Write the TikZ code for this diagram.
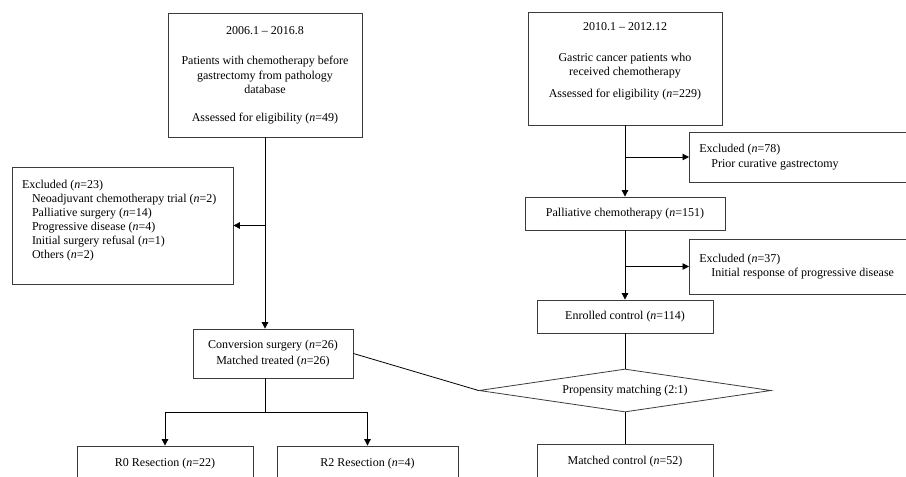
\documentclass[tikz,border=0pt]{standalone}
\usepackage{fontspec}
\setmainfont{Liberation Serif}
\usepackage{tikz}
\usetikzlibrary{arrows.meta,positioning,shapes.geometric}
\definecolor{boxgrey}{RGB}{60,60,60}
\tikzset{
  base/.style={font=\fontsize{12}{14.5}\selectfont, align=flush center, inner sep=2pt, text=black},
  box/.style={base, rectangle, draw=boxgrey, fill=white, line width=0.8pt},
  exbox/.style={box, align=flush left, inner xsep=10pt},
  dec/.style={base, diamond, aspect=6.8, draw=boxgrey, fill=white, line width=0.8pt, inner sep=0pt},
  conn/.style={line width=0.8pt, draw=black},
  arr/.style={conn, -{Triangle[length=6.5pt,width=6.5pt]}},
}
\newcommand{\nn}[1]{(\textit{n}=#1)}

\begin{document}
\begin{tikzpicture}[x=1pt,y=-1pt]
  \useasboundingbox (0,0) rectangle (906,477);
  \clip (0,0) rectangle (906,477);
  % treated arm
  \node[box,minimum width=194pt,minimum height=124pt,text width=184pt] (srcA) at (265,75)
    {2006.1 -- 2016.8\\[16pt] Patients with chemotherapy before\\ gastrectomy from pathology\\ database\\[13pt] Assessed for eligibility \nn{49}};
  \node[exbox,text width=201pt,inner ysep=12pt,text height=9pt,text depth=84pt,font=\fontsize{12}{14}\selectfont] (exL) at (122.5,225.5)
    {Excluded \nn{23}\\
     \hspace*{10pt}Neoadjuvant chemotherapy trial \nn{2}\\
     \hspace*{10pt}Palliative surgery \nn{14}\\
     \hspace*{10pt}Progressive disease \nn{4}\\
     \hspace*{10pt}Initial surgery refusal \nn{1}\\
     \hspace*{10pt}Others \nn{2}};
  \node[box,minimum width=160pt,minimum height=49pt] (conv) at (273,353.5)
    {Conversion surgery \nn{26}\\[1.5pt] Matched treated \nn{26}};
  \node[box,minimum width=176pt,minimum height=36pt] (resA) at (165,464) {R0 Resection \nn{22}};
  \node[box,minimum width=181pt,minimum height=36pt] (resB) at (367.5,464) {R2 Resection \nn{4}};
  % control arm
  \node[box,minimum width=194pt,text width=184pt,inner ysep=10pt,text height=8.7pt,text depth=84.3pt] (srcB) at (625,68.5)
    {2010.1 -- 2012.12\\[16pt] Gastric cancer patients who\\ received chemotherapy\\[7pt] Assessed for eligibility \nn{229}};
  \node[exbox,text width=200pt,minimum height=50pt,anchor=west] (exA) at (689,157)
    {Excluded \nn{78}\\ \hspace*{12pt}Prior curative gastrectomy};
  \node[box,minimum width=200pt,minimum height=33pt] (pall) at (625,213.5) {Palliative chemotherapy \nn{151}};
  \node[exbox,text width=200pt,minimum height=55pt,anchor=west] (exB) at (689,266.5)
    {Excluded \nn{37}\\ \hspace*{12pt}Initial response of progressive disease};
  \node[box,minimum width=176pt,minimum height=33pt] (enr) at (625,316.5) {Enrolled control \nn{114}};
  \node[dec,minimum width=292pt,minimum height=43pt] (pm) at (625,390.5) {Propensity matching (2:1)};
  \node[box,minimum width=176pt,minimum height=36pt] (match) at (625,462) {Matched control \nn{52}};
  % connectors
  \draw[arr] (srcA.south) -- (srcA.south |- conv.north);
  \draw[arr] (srcA.south |- exL.east) -- (exL.east);
  \path (srcA.south |- conv.south) ++(0,34) coordinate (split);
  \draw[conn] (srcA.south |- conv.south) -- (split);
  \draw[arr] (split) -| (resA.north);
  \draw[arr] (split) -| (resB.north);
  \draw[arr] (srcB.south) -- (pall.north);
  \draw[arr] (srcB.south |- exA.west) -- (exA.west);
  \draw[arr] (pall.south) -- (enr.north);
  \draw[arr] (pall.south |- exB.west) -- (exB.west);
  \draw[conn] (enr.south) -- (pm.north);
  \draw[conn] (pm.south) -- (match.north);
  \draw[conn] (conv.east) -- (pm.west);
\end{tikzpicture}
\end{document}
